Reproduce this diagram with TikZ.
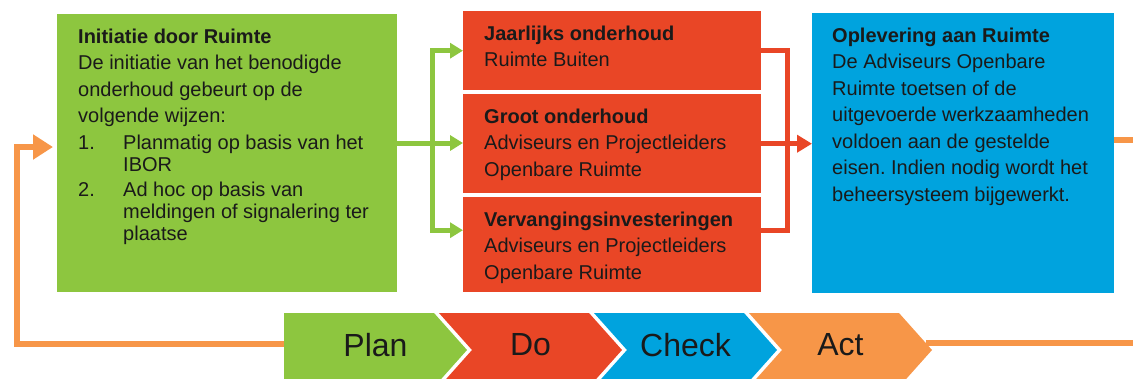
\documentclass[tikz,border=0pt]{standalone}
\usepackage{fontspec}
\setmainfont{Liberation Sans}
\usetikzlibrary{arrows.meta}
\frenchspacing

\definecolor{pdgreen}{RGB}{141,198,63}
\definecolor{pdred}{RGB}{233,70,38}
\definecolor{pdblue}{RGB}{0,163,222}
\definecolor{pdorange}{RGB}{247,150,72}
\definecolor{pdtext}{RGB}{26,26,26}

% top aligned text block of a fixed size
\newcommand{\boxtext}[3]{\parbox[t][#2][t]{#1}{\raggedright\fontsize{20}{26.5}\selectfont #3}}

\begin{document}
\begin{tikzpicture}[x=1pt,y=-1pt,
    infobox/.style={anchor=north west,inner xsep=21pt,inner ysep=14.5pt,text=pdtext},
    gline/.style={pdgreen,line width=5pt},
    garrow/.style={gline,-{Triangle[length=13pt,width=15pt]}},
    rline/.style={pdred,line width=5pt},
    rarrow/.style={rline,-{Triangle[length=15pt,width=17pt]}},
    oline/.style={pdorange,line width=6pt},
    oarrow/.style={oline,-{Triangle[length=20pt,width=24pt]}},
    chevtext/.style={font=\fontsize{32}{36}\selectfont,text=pdtext}]
\useasboundingbox (0,0) rectangle (1133,378);

% Plan
\node[infobox,fill=pdgreen] (init) at (57,14) {\boxtext{298pt}{249pt}{%
    \textbf{Initiatie door Ruimte}\\
    De initiatie van het benodigde\\
    onderhoud gebeurt op de\\
    volgende wijzen:\\
    \makebox[45pt][l]{1.}Planmatig op basis van het\\[-4.5pt]
    \hspace*{45pt}IBOR\\[-1.5pt]
    \makebox[45pt][l]{2.}Ad hoc op basis van\\[-4.5pt]
    \hspace*{45pt}meldingen of signalering ter\\[-4.5pt]
    \hspace*{45pt}plaatse}};

% Do
\node[infobox,fill=pdred] (jaar) at (463,11) {\boxtext{256pt}{50pt}{%
    \textbf{Jaarlijks onderhoud}\\
    Ruimte Buiten}};
\node[infobox,fill=pdred] (groot) at (463,94) {\boxtext{256pt}{70pt}{%
    \textbf{Groot onderhoud}\\
    Adviseurs en Projectleiders\\
    Openbare Ruimte}};
\node[infobox,fill=pdred] (verv) at (463,197) {\boxtext{256pt}{66pt}{%
    \textbf{Vervangingsinvesteringen}\\
    Adviseurs en Projectleiders\\
    Openbare Ruimte}};

% Check
\node[infobox,inner xsep=20pt,fill=pdblue] (oplev) at (812,13) {\boxtext{262pt}{251pt}{%
    \textbf{Oplevering aan Ruimte}\\
    De Adviseurs Openbare\\
    Ruimte toetsen of de\\
    uitgevoerde werkzaamheden\\
    voldoen aan de gestelde\\
    eisen. Indien nodig wordt het\\
    beheersysteem bijgewerkt.}};

% green split
\coordinate (split) at (432,143);
\draw[gline] (init.east |- split) -- (split);
\draw[garrow] (split) |- (jaar.west);
\draw[garrow] (split) -- (groot.west |- split);
\draw[garrow] (split) |- ([yshift=14.5pt]verv.west);

% red join
\coordinate (join) at (787,143);
\draw[rline] (jaar.east) -| (join) |- ([yshift=14.5pt]verv.east);
\draw[rarrow] (groot.east) -- (oplev.west |- groot.east);

% PDCA chevrons
\foreach \x/\n/\col/\name/\txt in {284/0/pdgreen/plan/Plan,439/33/pdred/do/Do,
                                   594/33/pdblue/check/Check,749/33/pdorange/act/Act}{
    \fill[\col] (\x,313) -- ++(150,0) -- ++(33,37) -- ++(-33,37) -- ++(-150,0) -- ++(\n,-37) -- cycle;
    \node[chevtext] (\name) at (\x+91.5,345) {\txt};
}

% orange loop back
\coordinate (backR) at (1133,140);
\coordinate (actout) at (926,343);
\coordinate (loopR) at (1133,343);
\coordinate (planin) at (284,344);
\coordinate (loopL) at (17,147);
\draw[oline] (oplev.east |- backR) -- (backR);
\draw[oline] (actout) -- (loopR);
\draw[oarrow] (planin) -| (loopL) -- ([xshift=-4pt]init.west |- loopL);
\end{tikzpicture}
\end{document}
